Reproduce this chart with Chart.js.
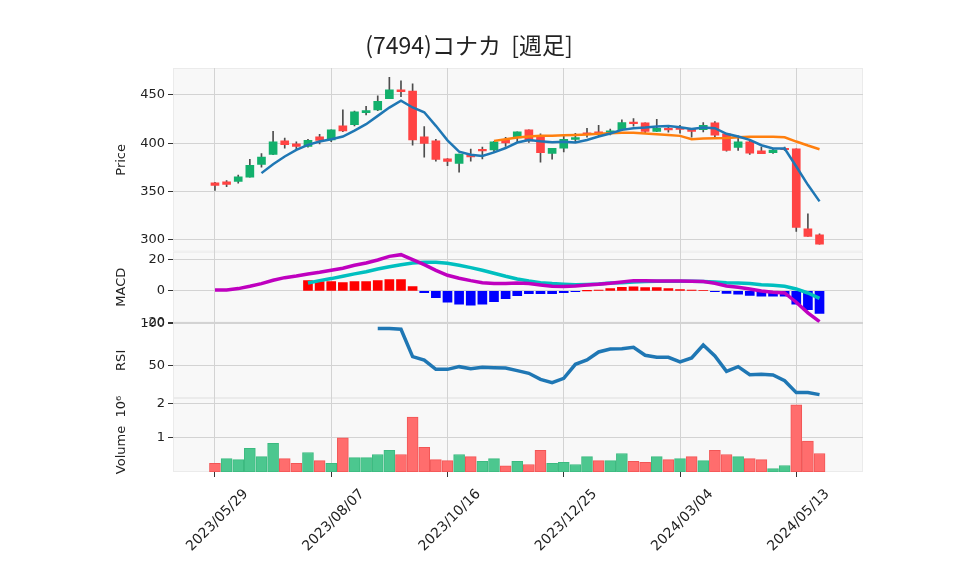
<!DOCTYPE html>
<html><head><meta charset="utf-8">
<script src="https://cdn.jsdelivr.net/npm/chart.js@4.4.1/dist/chart.umd.min.js"></script>
<style>html,body{margin:0;padding:0;background:#fff;}#wrap{width:958px;height:575px;}</style>
</head><body><div id="wrap"><canvas id="c" width="958" height="575"></canvas></div>
<script>
const chartTitle = '(7494)コナカ  [週足]';
const tickWeeks = [0, 10, 20, 30, 40, 50];
const tickDates = ['2023/05/29', '2023/08/07', '2023/10/16', '2023/12/25', '2024/03/04', '2024/05/13'];

const openP  = [359, 360, 360.3, 364.8, 377.9, 388.3, 402.4, 399.3, 396.6, 406.6, 403.4, 417.9, 419.3, 431.7, 434.5, 446.2, 455.2, 454.1, 406.6, 402.4, 383.8, 379, 388, 393.4, 393.1, 403.1, 405.5, 413.8, 407.2, 389.3, 394.8, 403.8, 410.7, 411.7, 410, 414.1, 421.7, 421, 412.1, 415.2, 415.2, 415.5, 414.1, 421, 409.7, 395.5, 401.4, 392.1, 390.3, 394.5, 394.1, 311.4, 305.2];
const closeP = [356.2, 357.2, 365.2, 377.2, 385.5, 401.4, 398.6, 396.6, 403.1, 402.8, 413.8, 412.8, 432.4, 433.8, 443.4, 455.2, 453.4, 403.4, 399.7, 383.1, 381, 388.6, 385.9, 392, 401.4, 400.3, 411.7, 402.4, 390.3, 394.8, 404.1, 405.9, 409.3, 409.0, 412.8, 421.4, 420.3, 412.1, 415.5, 413.8, 414.3, 412.1, 418.6, 408.3, 392.4, 401.4, 389.6, 389.1, 392.8, 393.2, 312.8, 303.4, 295.5];
const highP  = [359.5, 361.4, 366.9, 383.4, 389.3, 412.4, 405.2, 401.4, 404, 409.3, 413.8, 434.5, 433.4, 438.3, 449, 468.3, 464.5, 461.4, 417.2, 404, 384, 388.6, 393.8, 396, 402, 406.2, 411.7, 413.8, 409.7, 394.8, 407.6, 410.3, 415.5, 418.6, 414.5, 424.1, 425.5, 421, 424.8, 418.6, 418.6, 415.5, 421.4, 422.4, 409.7, 407.6, 403.4, 395.9, 394.5, 395.9, 394.1, 326.9, 306.2];
const lowP   = [351, 355, 358.6, 364.8, 375.2, 388, 394.8, 393.1, 396, 399.3, 401.7, 412, 418, 429.3, 433.8, 446, 448.3, 398, 385.5, 381.4, 376.6, 370, 381.4, 383.8, 390.7, 396.6, 401.4, 400.7, 380.3, 383.4, 391, 401.7, 406.2, 407, 408.6, 413, 417.6, 410.7, 412, 411.4, 410.3, 406.2, 411.7, 406.6, 391.7, 392.4, 388.3, 389.1, 389.3, 392.4, 308.6, 303.4, 295.5];

const maShort = [null, null, null, null, 369, 378.3, 386.2, 393.1, 398.3, 401.7, 404.1, 406.9, 413.1, 419.7, 428.3, 436.9, 444.1, 437, 432, 418, 403, 391.3, 388, 386.8, 390.5, 395, 400.7, 403.4, 402, 401, 401.4, 400.7, 403.4, 406.9, 410, 413.8, 415.5, 416.2, 417.2, 417.9, 416.6, 414.8, 416.2, 415.5, 409.7, 406.9, 403.4, 397.9, 394.5, 394.5, 375.9, 356.9, 339.7];
const maLong = [null, null, null, null, null, null, null, null, null, null, null, null, null, null, null, null, null, null, null, null, null, null, null, null, 402.4, 404.1, 405.9, 406.9, 407.6, 407.6, 408.3, 408.6, 409, 409.7, 410.3, 410.7, 410.7, 410, 409.3, 408.6, 407.6, 404.1, 404.8, 405.2, 405.5, 406.2, 406.6, 406.6, 406.6, 406.2, 401.7, 397.6, 393.8];

const macdLine = [0.6, 0.6, 1.5, 3, 4.7, 6.8, 8.5, 9.6, 10.9, 11.9, 13.2, 14.5, 16.4, 17.9, 19.8, 22.1, 23.2, 20, 16.8, 13.2, 10, 8.1, 6.6, 5.3, 4.7, 4.7, 5.1, 4.7, 3.8, 3.0, 2.8, 3.2, 3.8, 4.3, 4.9, 5.7, 6.6, 6.6, 6.4, 6.4, 6.4, 6.2, 6.0, 4.9, 3.2, 2.3, 1.3, 0, -0.9, -1.3, -7.2, -14, -19.6];
const signalLine = [null, null, null, null, null, null, null, null, 5.1, 6.6, 7.9, 9.4, 10.9, 12.3, 14, 15.5, 16.8, 17.9, 18.3, 18.3, 17.7, 16.4, 14.9, 13.2, 11.3, 9.4, 7.7, 6.4, 5.3, 4.7, 4.3, 4.0, 4.2, 4.5, 5.1, 5.3, 5.7, 6.0, 6.2, 6.2, 6.2, 6.2, 6.0, 5.7, 5.3, 5.1, 4.7, 4.0, 3.6, 3.0, 1.3, -1.3, -4.7];
const macdHist = [null, null, null, null, null, null, null, null, 6.6, 6, 6, 5.3, 6, 6, 6.6, 7.2, 7.2, 2.8, -1.1, -4.3, -7.2, -8.5, -9.1, -8.5, -6.8, -4.9, -3, -1.7, -1.7, -1.7, -1.1, -0.4, 0.05, 0.6, 1.5, 2.3, 2.6, 2.1, 2.1, 1.5, 0.9, 0.6, 0.4, -0.4, -1.5, -2.1, -2.8, -3.4, -3.4, -3.4, -8.5, -11.9, -14.3];

const rsiLine = [null, null, null, null, null, null, null, null, null, null, null, null, null, null, 93.7, 93.7, 92.9, 60.3, 56.3, 45.2, 45.2, 48.4, 46, 47.6, 47.2, 46.8, 43.7, 40.5, 33.3, 29.4, 34.5, 51.2, 56.3, 65.9, 69.4, 69.8, 71.4, 61.9, 59.5, 59.5, 54, 58.7, 74.2, 61.1, 42.9, 48.4, 38.9, 39.3, 38.5, 31.7, 17.5, 17.5, 15.1];

const volumeM = [0.25, 0.39, 0.36, 0.69, 0.45, 0.84, 0.39, 0.25, 0.57, 0.33, 0.25, 1.0, 0.42, 0.42, 0.51, 0.63, 0.51, 1.6, 0.72, 0.36, 0.33, 0.51, 0.45, 0.31, 0.39, 0.18, 0.31, 0.22, 0.63, 0.25, 0.28, 0.22, 0.45, 0.33, 0.33, 0.54, 0.31, 0.28, 0.45, 0.36, 0.39, 0.45, 0.33, 0.63, 0.51, 0.45, 0.39, 0.36, 0.1, 0.19, 1.96, 0.9, 0.54];

const priceTicks = [300, 350, 400, 450];
const macdTicks = [-20, 0, 20];
const rsiTicks = [50, 100];
const volTicks = [1, 2];

const C_UP = '#12b06c', C_DN = '#ff4343', C_WICK = '#4d4d4d';
const V_UP = '#4cc78f', V_UP_E = '#3cba80', V_DN = '#ff6d6d', V_DN_E = '#f25555';
const GRID = '#d3d3d3', TXT = '#222';

const pts = arr => arr.map((v, i) => v === null ? null : {x: i, y: v}).filter(p => p);

const panelBg = {
  id: 'panelBg',
  beforeDraw(chart) {
    const {ctx, chartArea} = chart;
    ctx.save();
    ['yP', 'yM', 'yR', 'yV'].forEach(id => {
      const s = chart.scales[id];
      ctx.fillStyle = '#f8f8f8';
      ctx.fillRect(chartArea.left, s.top, chartArea.right - chartArea.left, s.bottom - s.top);
      ctx.strokeStyle = '#ebebeb';
      ctx.lineWidth = 1;
      ctx.strokeRect(chartArea.left + 0.5, s.top + 0.5, chartArea.right - chartArea.left - 1, s.bottom - s.top - 1);
    });
    ctx.restore();
  }
};

const tickFont = {family: 'DejaVu Sans', size: 13};
function yAxis(weight, stackWeight, min, max, ticksArr, titleText) {
  return {
    type: 'linear', position: 'left', stack: 'panels', stackWeight, weight, min, max,
    border: {display: false},
    grid: {color: GRID, tickColor: '#333', tickLength: 5, lineWidth: 1, offset: false},
    ticks: {font: tickFont, color: TXT, padding: 3, callback: v => String(v)},
    afterBuildTicks: s => { s.ticks = ticksArr.map(v => ({value: v})); },
    afterFit: s => { s.width = 98; },
    title: {display: true, text: titleText, font: {family: 'DejaVu Sans', size: 13}, color: TXT, padding: {top: 39, bottom: 0}}
  };
}

const datasets = [
  {type: 'bar', label: 'wick', data: lowP.map((l, i) => ({x: i, y: [l, highP[i]]})), yAxisID: 'yP',
   backgroundColor: C_WICK, barThickness: 1, grouped: false, order: 5},
  {type: 'bar', label: 'body', data: openP.map((o, i) => ({x: i, y: [o, closeP[i]]})), yAxisID: 'yP',
   backgroundColor: openP.map((o, i) => closeP[i] >= o ? C_UP : C_DN), barThickness: 8, minBarLength: 1.5, grouped: false, order: 4},
  {type: 'line', label: 'ma short', data: pts(maShort), yAxisID: 'yP', borderColor: '#1f77b4', borderWidth: 2.5, pointRadius: 0, tension: 0, order: 1},
  {type: 'line', label: 'ma long', data: pts(maLong), yAxisID: 'yP', borderColor: '#ff7f0e', borderWidth: 2.5, pointRadius: 0, tension: 0, order: 1},
  {type: 'bar', label: 'hist', data: pts(macdHist), yAxisID: 'yM',
   backgroundColor: pts(macdHist).map(p => p.y >= 0 ? '#ff0000' : '#0000ff'), barThickness: 9, grouped: false, order: 4},
  {type: 'line', label: 'macd', data: pts(macdLine), yAxisID: 'yM', borderColor: '#bf00bf', borderWidth: 3.5, pointRadius: 0, tension: 0, order: 1},
  {type: 'line', label: 'signal', data: pts(signalLine), yAxisID: 'yM', borderColor: '#00bfbf', borderWidth: 3.5, pointRadius: 0, tension: 0, order: 1},
  {type: 'line', label: 'rsi', data: pts(rsiLine), yAxisID: 'yR', borderColor: '#1f77b4', borderWidth: 3.5, pointRadius: 0, tension: 0, order: 1},
  {type: 'bar', label: 'volume', data: pts(volumeM), yAxisID: 'yV',
   backgroundColor: volumeM.map((v, i) => (i === 0 ? closeP[0] < openP[0] : closeP[i] < closeP[i - 1]) ? V_DN : V_UP),
   borderColor: volumeM.map((v, i) => (i === 0 ? closeP[0] < openP[0] : closeP[i] < closeP[i - 1]) ? V_DN_E : V_UP_E),
   borderWidth: 1, borderSkipped: false, barThickness: 11, grouped: false, order: 4}
];

new Chart(document.getElementById('c'), {
  type: 'bar',
  data: {datasets},
  plugins: [panelBg],
  options: {
    responsive: false, animation: false, devicePixelRatio: 1,
    layout: {padding: {left: 75, right: 95, top: 0, bottom: 0}},
    plugins: {
      legend: {display: false}, tooltip: {enabled: false},
      title: {display: true, text: chartTitle, color: TXT,
        font: {family: "'Noto Sans CJK JP', 'DejaVu Sans'", size: 23, weight: 'normal'},
        padding: {top: 31, bottom: 9.4}}
    },
    scales: {
      x: {
        type: 'linear', position: 'bottom', min: -3.61, max: 55.74, offset: false,
        border: {display: false},
        grid: {color: GRID, tickColor: '#333', tickLength: 5, lineWidth: 1, offset: false},
        ticks: {font: {family: 'DejaVu Sans', size: 14}, color: TXT, autoSkip: false, minRotation: 45, maxRotation: 45,
          padding: 9, labelOffset: 31,
          callback: v => tickDates[tickWeeks.indexOf(v)]},
        afterBuildTicks: s => { s.ticks = tickWeeks.map(v => ({value: v})); },
        afterFit: s => { s.height = 103; }
      },
      yP: yAxis(4, 183.7, 287.6, 477.9, priceTicks, 'Price'),
      yM: yAxis(3, 71, -20.3, 25.1, macdTicks, 'MACD'),
      yR: yAxis(2, 75.3, 11.1, 100.7, rsiTicks, 'RSI'),
      yV: yAxis(1, 74, 0, 2.16, volTicks, 'Volume  10⁶')
    }
  }
});
</script></body></html>
